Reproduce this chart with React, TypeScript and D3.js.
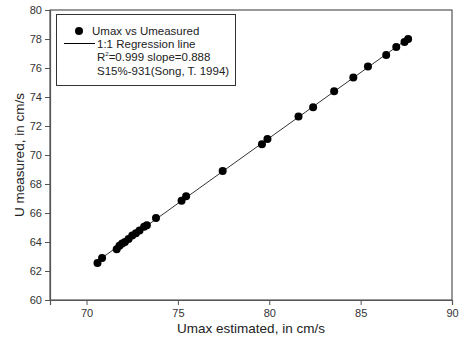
import React, { useEffect, useRef } from "react";
import * as d3 from "d3";

// Umax estimated vs U measured (cm/s)
const estimated = [
  70.6, 70.85, 71.65, 71.8, 71.95, 72.1, 72.3, 72.5, 72.7, 72.9, 73.15, 73.3,
  73.8, 75.2, 75.45, 77.45, 79.6, 79.9, 81.6, 82.4, 83.55, 84.6, 85.4, 86.4,
  86.95, 87.4, 87.6,
];
const measured = [
  62.55, 62.9, 63.5, 63.75, 63.9, 64.0, 64.2, 64.45, 64.6, 64.8, 65.05, 65.15,
  65.65, 66.85, 67.15, 68.9, 70.75, 71.1, 72.65, 73.3, 74.4, 75.35, 76.1, 76.9,
  77.45, 77.8, 78.0,
];
const xTicks = [70, 75, 80, 85, 90];
const yTicks = [60, 62, 64, 66, 68, 70, 72, 74, 76, 78, 80];
const legendLines = [
  "1:1 Regression line",
  "R2=0.999 slope=0.888",
  "S15%-931(Song, T. 1994)",
];

const App: React.FC = () => {
  const ref = useRef<SVGSVGElement | null>(null);

  useEffect(() => {
    const svg = d3.select(ref.current);
    svg.selectAll("*").remove();

    const width = 460;
    const height = 338;
    const margin = { top: 10, right: 8, bottom: 38, left: 50 };
    const font = "'Liberation Sans', Arial, sans-serif";

    const x = d3.scaleLinear().domain([68, 90]).range([margin.left, width - margin.right]);
    const y = d3.scaleLinear().domain([60, 80]).range([height - margin.bottom, margin.top]);

    const data = estimated.map((e, i) => ({ e, m: measured[i] }));

    // frame
    svg
      .append("rect")
      .attr("x", x(68))
      .attr("y", y(80))
      .attr("width", x(90) - x(68))
      .attr("height", y(60) - y(80))
      .attr("fill", "none")
      .attr("stroke", "#555")
      .attr("stroke-width", 1.2);

    // x axis
    const xAxis = svg
      .append("g")
      .attr("transform", `translate(0,${y(60)})`)
      .call(d3.axisBottom(x).tickValues(xTicks).tickSize(5).tickPadding(4));
    xAxis.select(".domain").attr("stroke", "#555").attr("stroke-width", 1.2);
    xAxis.selectAll("line").attr("stroke", "#555");
    xAxis
      .selectAll("text")
      .attr("font-family", font)
      .attr("font-size", 11)
      .attr("fill", "#333");

    // y axis
    const yAxis = svg
      .append("g")
      .attr("transform", `translate(${x(68)},0)`)
      .call(d3.axisLeft(y).tickValues(yTicks).tickSize(5).tickPadding(3));
    yAxis.select(".domain").attr("stroke", "#555").attr("stroke-width", 1.2);
    yAxis.selectAll("line").attr("stroke", "#555");
    yAxis
      .selectAll("text")
      .attr("font-family", font)
      .attr("font-size", 11)
      .attr("fill", "#333");

    // axis titles
    svg
      .append("text")
      .attr("x", (x(68) + x(90)) / 2)
      .attr("y", 333)
      .attr("text-anchor", "middle")
      .attr("font-family", font)
      .attr("font-size", 13.5)
      .attr("fill", "#222")
      .text("Umax estimated, in cm/s");
    svg
      .append("text")
      .attr("transform", `translate(24,${(y(60) + y(80)) / 2}) rotate(-90)`)
      .attr("text-anchor", "middle")
      .attr("font-family", font)
      .attr("font-size", 13.5)
      .attr("fill", "#222")
      .text("U measured, in cm/s");

    // regression line (least squares on the data)
    const mx = d3.mean(estimated) as number;
    const my = d3.mean(measured) as number;
    const sxy = d3.sum(data, (d) => (d.e - mx) * (d.m - my));
    const sxx = d3.sum(data, (d) => (d.e - mx) ** 2);
    const b = sxy / sxx;
    const a = my - b * mx;
    const ext = d3.extent(estimated) as [number, number];
    svg
      .append("path")
      .datum(ext)
      .attr(
        "d",
        d3
          .line<number>()
          .x((d) => x(d))
          .y((d) => y(a + b * d))
      )
      .attr("fill", "none")
      .attr("stroke", "#333")
      .attr("stroke-width", 1);

    // points
    svg
      .append("g")
      .selectAll("circle")
      .data(data)
      .join("circle")
      .attr("cx", (d) => x(d.e))
      .attr("cy", (d) => y(d.m))
      .attr("r", 4)
      .attr("fill", "#000");

    // legend
    const lg = svg.append("g");
    lg.append("rect")
      .attr("x", 56.5)
      .attr("y", 14.5)
      .attr("width", 179)
      .attr("height", 71)
      .attr("fill", "#fff")
      .attr("stroke", "#333")
      .attr("stroke-width", 1);
    lg.append("circle").attr("cx", 79).attr("cy", 31).attr("r", 4).attr("fill", "#000");
    lg.append("line")
      .attr("x1", 64)
      .attr("x2", 95)
      .attr("y1", 43.5)
      .attr("y2", 43.5)
      .attr("stroke", "#000")
      .attr("stroke-width", 1);
    lg.append("text")
      .attr("x", 92)
      .attr("y", 35)
      .attr("font-family", font)
      .attr("font-size", 11.5)
      .attr("fill", "#222")
      .text("Umax vs Umeasured");
    legendLines.forEach((t, i) => {
      const txt = lg
        .append("text")
        .attr("x", 97)
        .attr("y", 48 + i * 13.3)
        .attr("font-family", font)
        .attr("font-size", 11.5)
        .attr("fill", "#222");
      if (t.startsWith("R2")) {
        txt.append("tspan").text("R");
        txt.append("tspan").attr("dy", -5).attr("font-size", 6).text("2");
        txt.append("tspan").attr("dy", 5).text(t.slice(2));
      } else {
        txt.text(t);
      }
    });
  }, []);

  return (
    <svg
      ref={ref}
      width={460}
      height={338}
      style={{ position: "absolute", left: 0, top: 0, background: "#fff" }}
    />
  );
};

export default App;
